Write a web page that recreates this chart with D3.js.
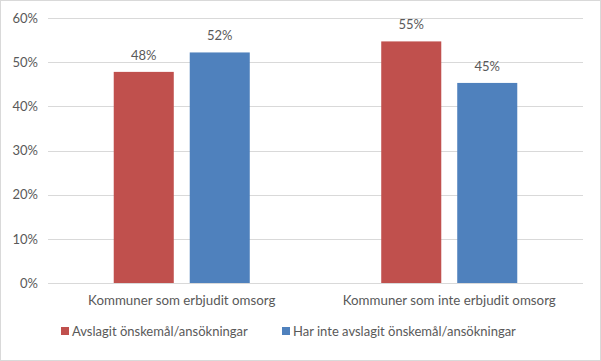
<!DOCTYPE html>
<html><head><meta charset="utf-8">
<script src="https://cdn.jsdelivr.net/npm/d3@7"></script>
<style>body{margin:0;background:#fff}text{font-family:Lato,"Open Sans",sans-serif;fill:#595959}</style>
</head><body><svg id="c" width="601" height="361"></svg>
<script>
const categories = ["Kommuner som erbjudit omsorg", "Kommuner som inte erbjudit omsorg"];
const seriesNames = ["Avslagit önskemål/ansökningar", "Har inte avslagit önskemål/ansökningar"];
const avslagit = [0.478, 0.547];
const harInte = [0.522, 0.453];
const yTicks = [0, 0.1, 0.2, 0.3, 0.4, 0.5, 0.6];
const colors = ["#C0504D", "#4F81BD"];

const svg = d3.select("#c");
svg.append("rect").attr("x",0.5).attr("y",0.5).attr("width",600).attr("height",360).attr("fill","#fff").attr("stroke","#D9D9D9");
const m = {l:48, r:583, t:18, b:283};
const y = d3.scaleLinear().domain([0,0.6]).range([m.b, m.t]);
const x0 = d3.scaleBand().domain(categories).range([m.l, m.r]);
const x1 = d3.scaleBand().domain([0,1]).range([0, x0.bandwidth()]).paddingInner(0.21).paddingOuter(0.865);

const g = svg.append("g");
g.selectAll("line.grid").data(yTicks).join("line")
  .attr("x1", m.l).attr("x2", m.r).attr("y1", d=>Math.round(y(d))+0.5).attr("y2", d=>Math.round(y(d))+0.5)
  .attr("stroke","#D9D9D9").attr("stroke-width",1);

const yAxis = d3.axisLeft(y).tickValues(yTicks).tickFormat(d3.format(".0%")).tickSize(0).tickPadding(10);
const ya = svg.append("g").attr("transform",`translate(${m.l},0)`).call(yAxis);
ya.select(".domain").remove();
ya.selectAll("text").style("font-size","13px").attr("fill","#595959");

const data = categories.map((c,i)=>({c, vals:[avslagit[i], harInte[i]]}));
const cg = svg.selectAll("g.cat").data(data).join("g").attr("class","cat").attr("transform", d=>`translate(${x0(d.c)},0)`);
cg.selectAll("rect").data(d=>d.vals.map((v,k)=>({v,k}))).join("rect")
  .attr("x", d=>x1(d.k)).attr("width", x1.bandwidth())
  .attr("y", d=>y(d.v)).attr("height", d=>y(0)-y(d.v)).attr("fill", d=>colors[d.k]);
cg.selectAll("text.lbl").data(d=>d.vals.map((v,k)=>({v,k}))).join("text").attr("class","lbl")
  .attr("x", d=>x1(d.k)+x1.bandwidth()/2).attr("y", d=>y(d.v)-12)
  .attr("text-anchor","middle").style("font-size","13px").text(d=>d3.format(".0%")(d.v));

const xAxis = d3.axisBottom(x0).tickSize(0).tickPadding(13);
const xa = svg.append("g").attr("transform",`translate(0,${m.b})`).call(xAxis);
xa.select(".domain").remove();
xa.selectAll("text").style("font-size","13.3px").attr("fill","#595959");

const legX = [61, 282];
const lg = svg.selectAll("g.leg").data(seriesNames).join("g").attr("class","leg")
  .attr("transform",(d,i)=>`translate(${legX[i]},327)`);
lg.append("rect").attr("width",8).attr("height",8).attr("fill",(d,i)=>colors[i]);
lg.append("text").attr("x",11).attr("y",8.5).style("font-size","13px").text(d=>d);
</script></body></html>
